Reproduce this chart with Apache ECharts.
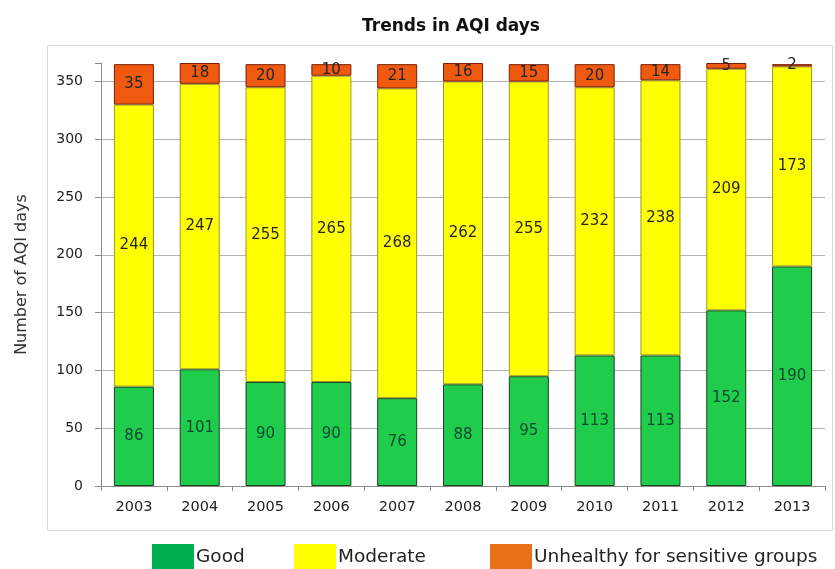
<!DOCTYPE html>
<html>
<head>
<meta charset="utf-8">
<script src="https://cdn.jsdelivr.net/npm/echarts@6/dist/echarts.min.js"></script>
<style>html,body{margin:0;padding:0;background:#fff;}#c{width:835px;height:569px;}</style>
</head>
<body>
<div id="c"></div>
<script>
var years = ['2003','2004','2005','2006','2007','2008','2009','2010','2011','2012','2013'];
var good = [86, 101, 90, 90, 76, 88, 95, 113, 113, 152, 190];
var moderate = [244, 247, 255, 265, 268, 262, 255, 232, 238, 209, 173];
var unhealthy = [35, 18, 20, 10, 21, 16, 15, 20, 14, 5, 2];
var seriesNames = ['Good', 'Moderate', 'Unhealthy for sensitive groups'];

var FONT = '"DejaVu Sans", sans-serif';
var chart = echarts.init(document.getElementById('c'));
function lbl(c) {
  return { show: true, position: 'inside', fontFamily: FONT, fontSize: 15, color: c || '#262626' };
}
function oneLegend(i, left, color) {
  return {
    left: left, top: 544, padding: 0, itemWidth: 42, itemHeight: 26, icon: 'rect',
    textStyle: { fontFamily: FONT, fontSize: 18.5, color: '#222', padding: [0, 0, 0, -3] },
    data: [{ name: seriesNames[i], itemStyle: { color: color, borderWidth: 0 } }]
  };
}
chart.setOption({
  animation: false,
  backgroundColor: '#fff',
  title: {
    text: 'Trends in AQI days', left: 446, textAlign: 'center', top: 13,
    textStyle: { fontFamily: FONT, fontSize: 17, fontWeight: 'bold', color: '#111' }
  },
  graphic: [{
    type: 'rect', shape: { x: 47.5, y: 45.5, width: 785, height: 485 },
    style: { fill: 'none', stroke: '#d9d9d9', lineWidth: 1 }, z: -1
  }],
  legend: [
    oneLegend(0, 152, '#00b050'),
    oneLegend(1, 294, '#ffff00'),
    oneLegend(2, 490, '#e97116')
  ],
  grid: { left: 101, right: 10, top: 63, bottom: 83 },
  xAxis: {
    type: 'category', data: years,
    axisLine: { lineStyle: { color: '#8c8c8c' } },
    axisTick: { show: true, length: 5, lineStyle: { color: '#8c8c8c' } },
    axisLabel: { fontFamily: FONT, fontSize: 14.5, color: '#222', margin: 14 }
  },
  yAxis: {
    type: 'value', min: 0, max: 366, interval: 50,
    name: 'Number of AQI days', nameLocation: 'middle', nameGap: 71, nameRotate: 90,
    nameTextStyle: { fontFamily: FONT, fontSize: 16, color: '#333' },
    axisLine: { show: true, lineStyle: { color: '#8c8c8c' } },
    axisTick: { show: true, length: 6, lineStyle: { color: '#8c8c8c' } },
    axisLabel: {
      fontFamily: FONT, fontSize: 14, color: '#222', margin: 18,
      formatter: function (v) { return v % 50 === 0 ? String(v) : ''; }
    },
    splitLine: { show: true, showMaxLine: false, lineStyle: { color: '#b3b3b3', width: 1 } }
  },
  series: [
    {
      name: seriesNames[0], type: 'bar', stack: 'a', data: good, barWidth: 40,
      itemStyle: { color: '#1fcc4c', borderColor: '#18401f', borderWidth: 1 },
      label: lbl('#0b4a30')
    },
    {
      name: seriesNames[1], type: 'bar', stack: 'a', data: moderate, barWidth: 40,
      itemStyle: { color: '#ffff00', borderColor: '#9a9a20', borderWidth: 1 },
      label: lbl()
    },
    {
      name: seriesNames[2], type: 'bar', stack: 'a', data: unhealthy, barWidth: 40,
      itemStyle: { color: '#f05a10', borderColor: '#7a1e05', borderWidth: 1 },
      label: lbl()
    }
  ]
});
</script>
</body>
</html>
